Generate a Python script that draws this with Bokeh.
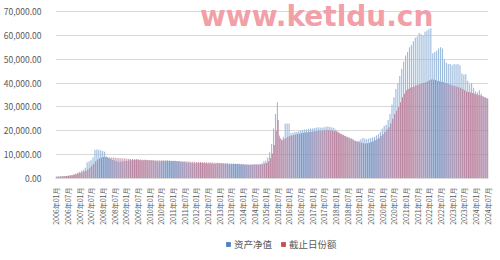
from bokeh.plotting import figure
from bokeh.models import (ColumnDataSource, FixedTicker, NumeralTickFormatter, Legend,
                          LegendItem, Label, Range1d)
from bokeh.layouts import column
from bokeh.transform import dodge
from bokeh.embed import file_html
from bokeh.resources import INLINE
from math import pi

# 资产净值 (monthly, 2006-01 .. 2024-07)
nav = [
    800, 850, 900, 950, 1000, 1100, 1200, 1350, 1500, 1700, 2000, 2400,
    2800, 3200, 3700, 4500, 6800, 7200, 7600, 8800, 12000, 12200, 12000, 11800,
    11500, 11200, 9200, 8600, 8200, 7800, 7600, 7300, 7000, 7000, 7100, 7200,
    7300, 7400, 7600, 7700, 7800, 7900, 8000, 7700, 7600, 7700, 7800, 7700,
    7600, 7500, 7500, 7300, 7200, 7100, 7200, 7300, 7300, 7500, 7400, 7300,
    7300, 7300, 7200, 7200, 7000, 6900, 6900, 6700, 6600, 6600, 6500, 6400,
    6400, 6500, 6500, 6500, 6500, 6400, 6300, 6300, 6300, 6200, 6200, 6300,
    6400, 6300, 6300, 6200, 6200, 6000, 6000, 6100, 6100, 6100, 6000, 5900,
    5900, 5800, 5800, 5800, 5800, 5900, 6000, 6000, 6000, 6100, 6400, 7200,
    7500, 8800, 11000, 14500, 21000, 27000, 32000, 18000, 16500, 17500, 23000, 23000,
    23000, 19000, 19200, 19500, 19500, 19800, 20000, 20300, 20500, 20500, 20800, 21000,
    21000, 21200, 21300, 21500, 21400, 21300, 21500, 21700, 21800, 21600, 21500, 21200,
    20500, 19800, 19200, 18700, 18300, 17800, 17500, 17300, 17000, 16500, 15800, 15500,
    15800, 16500, 17000, 16800, 16500, 16800, 17000, 17200, 17500, 18000, 18500, 19500,
    21000, 22000, 22500, 24500, 27000, 31000, 34000, 37500, 40000, 43000, 46000, 49000,
    51500, 53000, 55000, 56000, 57500, 59000, 59500, 61000, 60500, 60000, 61500, 62000,
    62500, 63000, 52500, 53000, 53500, 54500, 55000, 54500, 50000, 48500, 48000, 48000,
    47500, 48000, 47800, 48000, 47500, 44000, 43500, 43800, 41000, 39500, 40000, 38000,
    36500, 36000, 37000, 35500, 34500, 34000, 33500,
]

# 截止日份额
shares = [
    750, 800, 850, 900, 950, 1050, 1150, 1250, 1400, 1550, 1800, 2100,
    2300, 2600, 2900, 3300, 3800, 4500, 5300, 6200, 7200, 8000, 8500, 8800,
    9000, 9000, 8900, 8900, 8800, 8800, 8700, 8600, 8500, 8500, 8400, 8400,
    8300, 8300, 8200, 8200, 8100, 8100, 8000, 8000, 7900, 7900, 7900, 7800,
    7800, 7800, 7700, 7700, 7700, 7600, 7600, 7600, 7500, 7500, 7500, 7400,
    7400, 7400, 7300, 7300, 7200, 7200, 7200, 7100, 7100, 7000, 7000, 7000,
    6900, 6900, 6900, 6800, 6800, 6800, 6700, 6700, 6700, 6600, 6600, 6600,
    6500, 6500, 6400, 6400, 6400, 6300, 6300, 6300, 6200, 6200, 6200, 6100,
    6100, 6000, 6000, 5900, 5900, 5900, 5900, 5900, 5900, 5900, 6000, 6300,
    6500, 7200, 8500, 10500, 14000, 20000, 24500, 17000, 16000, 16500, 17000, 17500,
    17800, 18000, 18200, 18400, 18600, 18800, 19000, 19200, 19300, 19400, 19500, 19600,
    19700, 19800, 19900, 20000, 20000, 20100, 20100, 20200, 20200, 20100, 20000, 19900,
    19700, 19300, 18800, 18300, 17900, 17500, 17100, 16700, 16400, 16000, 15700, 15500,
    15200, 15000, 14800, 14700, 14800, 15000, 15300, 15600, 16000, 16500, 17000, 17800,
    18500, 19500, 20500, 21500, 23000, 25000, 27000, 28500, 30000, 32000, 34000, 35500,
    37000, 37500, 38000, 38300, 38600, 39000, 39300, 39600, 39800, 40000, 40300, 40800,
    41200, 41500, 41500, 41300, 41000, 40800, 40600, 40300, 40000, 39800, 39500, 39300,
    39000, 38800, 38500, 38200, 38000, 37500, 37000, 36500, 36200, 36000, 35800, 35500,
    35300, 35000, 34800, 34500, 34000, 33800, 33500,
]

tick_labels = [
    "2006年01月", "2006年07月", "2007年01月", "2007年07月", "2008年01月", "2008年07月",
    "2009年01月", "2009年07月", "2010年01月", "2010年07月", "2011年01月", "2011年07月",
    "2012年01月", "2012年07月", "2013年01月", "2013年07月", "2014年01月", "2014年07月",
    "2015年01月", "2015年07月", "2016年01月", "2016年07月", "2017年01月", "2017年07月",
    "2018年01月", "2018年07月", "2019年01月", "2019年07月", "2020年01月", "2020年07月",
    "2021年01月", "2021年07月", "2022年01月", "2022年07月", "2023年01月", "2023年07月",
    "2024年01月", "2024年07月",
]
y_ticks = [0, 10000, 20000, 30000, 40000, 50000, 60000, 70000]
series_names = ["资产净值", "截止日份额"]

n = len(nav)
src = ColumnDataSource(dict(idx=list(range(n)), nav=nav, shares=shares))
tick_pos = [6 * k for k in range(len(tick_labels))]

FONT = "Noto Sans CJK SC"
BLUE = "#9dbbdd"
RED = "#a04068"
RED_ALPHA = 0.6

p = figure(width=500, height=232, output_backend="svg", toolbar_location=None,
           x_range=Range1d(-0.5, n - 0.5), y_range=Range1d(0, 74600))
p.min_border_left = 52
p.min_border_right = 12
p.min_border_top = 0
p.min_border_bottom = 54
p.outline_line_color = None
p.background_fill_color = "white"
p.border_fill_color = "white"

p.vbar(x=dodge("idx", -0.2, range=p.x_range), top="nav", width=0.58, source=src,
       fill_color=BLUE, line_color=None)
p.vbar(x=dodge("idx", 0.2, range=p.x_range), top="shares", width=0.52, source=src,
       fill_color=RED, fill_alpha=RED_ALPHA, line_color=None)

p.xgrid.grid_line_color = None
p.ygrid.grid_line_color = "#d9d9d9"
p.ygrid.ticker = FixedTicker(ticks=y_ticks)

p.yaxis.ticker = FixedTicker(ticks=y_ticks)
p.yaxis.formatter = NumeralTickFormatter(format="0,0.00")
p.yaxis.axis_line_color = None
p.yaxis.major_tick_line_color = None
p.yaxis.minor_tick_line_color = None
p.yaxis.major_label_text_font = FONT
p.yaxis.major_label_text_font_size = "8.5px"
p.yaxis.major_label_text_color = "#595959"
p.yaxis.major_label_standoff = 8

p.xaxis.ticker = FixedTicker(ticks=tick_pos)
p.xaxis.major_label_overrides = {t: l for t, l in zip(tick_pos, tick_labels)}
p.xaxis.major_label_orientation = pi / 2
p.xaxis.axis_line_color = "#d9d9d9"
p.xaxis.major_tick_line_color = None
p.xaxis.minor_tick_line_color = None
p.xaxis.major_label_text_font = FONT
p.xaxis.major_label_text_font_size = "7px"
p.xaxis.major_label_text_color = "#595959"
p.xaxis.major_label_standoff = 3

wm = Label(x=134, y=67800, text="www.ketldu.cn", text_align="center",
           text_baseline="alphabetic", text_font="DejaVu Sans", text_font_style="bold",
           text_font_size="28px", text_color="#f2a0a8")
p.add_layout(wm)

# legend strip below the chart (proxy renderers are hidden, only their swatches show)
q = figure(width=500, height=28, output_backend="svg", toolbar_location=None,
           x_range=Range1d(0, 1), y_range=Range1d(0, 1),
           x_axis_location=None, y_axis_location=None)
q.min_border_left = 0
q.min_border_right = 0
q.min_border_top = 0
q.min_border_bottom = 0
q.outline_line_color = None
q.grid.visible = False
proxy = ColumnDataSource(dict(x=[0], top=[0]))
lb = q.vbar(x="x", top="top", width=0.1, source=proxy, fill_color="#4f81bd",
            line_color=None, visible=False)
lr = q.vbar(x="x", top="top", width=0.1, source=proxy, fill_color="#c0504d",
            line_color=None, visible=False)
legend = Legend(items=[LegendItem(label=series_names[0], renderers=[lb]),
                       LegendItem(label=series_names[1], renderers=[lr])],
                orientation="horizontal", location=(170, 9),
                label_text_font=FONT, label_text_font_size="9.5px",
                label_text_color="#595959", glyph_width=6, glyph_height=6,
                spacing=8, padding=0, margin=0, border_line_color=None,
                background_fill_alpha=0, label_standoff=3,
                inactive_fill_alpha=0)
q.add_layout(legend)

open("out.html", "w").write(file_html(column(p, q, spacing=0), INLINE))
